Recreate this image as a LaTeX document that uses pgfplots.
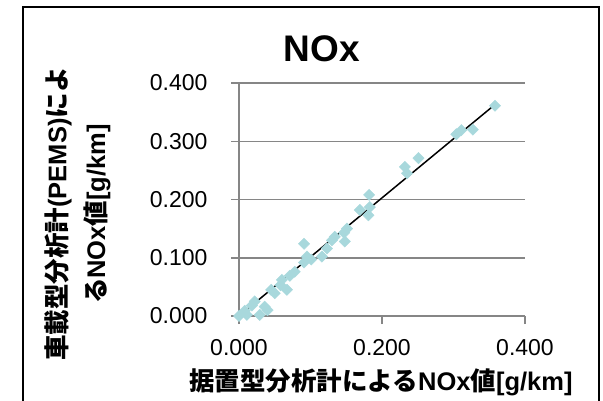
\documentclass[border=0pt]{standalone}
\usepackage{pgfplots}
\pgfplotsset{compat=1.18}
\usepackage{fontspec}
\setmainfont{Liberation Sans}
\newfontfamily\jp{Noto Sans CJK JP}
\definecolor{pt}{RGB}{168,216,220}
\definecolor{gridg}{RGB}{134,134,134}
\newcommand{\J}[1]{{\jp\bfseries #1}}
\begin{document}
\begin{tikzpicture}
\begin{axis}[
  at={(239pt,-316pt)}, anchor=south west,
  scale only axis, width=286pt, height=233pt,
  xmin=0, xmax=0.4, ymin=0, ymax=0.4,
  xtick={0,0.2,0.4}, ytick={0,0.1,0.2,0.3,0.4},
  axis x line*=bottom, axis y line*=left,
  axis line style={gridg, line width=1.5pt, -},
  ymajorgrids, grid style={gridg, line width=1.5pt},
  tick align=outside, major tick length=8pt,
  tick style={gridg, line width=1.5pt},
  /pgf/number format/assume math mode=true,
  /pgf/number format/fixed, /pgf/number format/fixed zerofill,
  /pgf/number format/precision=3,
  scaled ticks=false,
  tick label style={font=\fontsize{23}{26}\selectfont},
  yticklabel style={xshift=-20pt},
  xticklabel style={yshift=-12pt},
  clip=false,
]
\addplot[only marks, mark=square*, mark size=4pt, color=pt, mark options={rotate=45, draw=pt, fill=pt}] coordinates {
(0.000,0.000) (0.008,0.009) (0.011,0.002) (0.018,0.018) (0.022,0.025)
(0.029,0.002) (0.036,0.016) (0.040,0.010) (0.045,0.045) (0.050,0.039)
(0.058,0.053) (0.060,0.062) (0.067,0.045) (0.071,0.069) (0.078,0.076)
(0.091,0.124) (0.091,0.092) (0.095,0.102) (0.101,0.097) (0.116,0.102)
(0.123,0.116) (0.130,0.130) (0.134,0.136) (0.147,0.143) (0.148,0.128)
(0.151,0.150) (0.169,0.182) (0.181,0.173) (0.183,0.187) (0.182,0.208)
(0.232,0.256) (0.235,0.245) (0.251,0.271) (0.304,0.312) (0.311,0.319)
(0.327,0.320) (0.358,0.361)
};
\addplot[black, line width=1.5pt, no marks] coordinates {(0,0) (0.358,0.363)};
\end{axis}
\node[font=\bfseries\fontsize{37}{40}\selectfont] at (322pt,-49pt) {NOx};
\node[font=\fontsize{25.5}{28}\selectfont] at (381pt,-382pt) {\J{据置型分析計による}\textbf{NOx}\J{値}\textbf{[g/km]}};
\node[font=\fontsize{25.5}{28}\selectfont, rotate=90] at (58pt,-214pt) {\J{車載型分析計}\textbf{(PEMS)}\J{によ}};
\node[font=\fontsize{25.5}{28}\selectfont, rotate=90] at (97pt,-214pt) {\J{る}\textbf{NOx}\J{値}\textbf{[g/km]}};
\draw[line width=2pt] (23pt,-401pt) -- (23pt,-7pt) -- (599pt,-7pt) -- (599pt,-401pt);
\pgfresetboundingbox
\useasboundingbox (0pt,0pt) rectangle (603pt,-401pt);
\end{tikzpicture}
\end{document}
